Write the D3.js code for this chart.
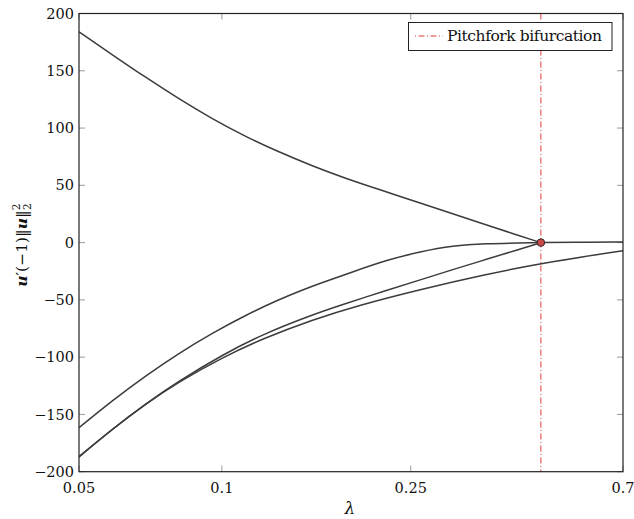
<!DOCTYPE html>
<html><head><meta charset="utf-8">
<script src="https://cdn.jsdelivr.net/npm/d3@7"></script>
<style>
body{margin:0;background:#fff;}
</style>
</head><body>
<svg id="chart" width="634" height="519"></svg>
<script>
// ---- data ----
const xTicks = [0.05, 0.1, 0.25, 0.7];
const xTickLabels = ["0.05", "0.1", "0.25", "0.7"];
const yTicks = [-200, -150, -100, -50, 0, 50, 100, 150, 200];
const pitchforkLambda = 0.47;
const pitchforkValue = 0;
const legendLabel = "Pitchfork bifurcation";

const branch1Lambda = [0.05, 0.0588, 0.0691, 0.0812, 0.0955, 0.1123, 0.1319, 0.1551, 0.1824, 0.2142, 0.2601, 0.306, 0.355, 0.41, 0.47];
const branch1Value  = [184, 163.9, 144.2, 125.4, 107.9, 92.4, 79.1, 66.9, 56.0, 46.4, 34.9, 25.2, 16.4, 7.9, 0];

const branch2Lambda = [0.05, 0.0588, 0.0691, 0.0812, 0.0955, 0.1123, 0.1319, 0.1477, 0.161, 0.189, 0.2226, 0.262, 0.306, 0.361, 0.425, 0.47, 0.55, 0.7];
const branch2Value  = [-161.6, -137.8, -116.2, -96.5, -78.9, -63.3, -49.7, -41.4, -35.6, -25.4, -15.2, -7.9, -2.7, -0.9, -0.3, 0, 0.2, 0.5];

const branch3Lambda = [0.05, 0.0588, 0.0691, 0.0812, 0.1, 0.1216, 0.1551, 0.177, 0.2228, 0.262, 0.306, 0.361, 0.425, 0.47];
const branch3Value  = [-187, -162.7, -140.6, -120.8, -98.3, -80.1, -63, -55, -41.4, -32.6, -23.6, -14.6, -5.6, 0];

const branch4Lambda = [0.05, 0.0588, 0.0691, 0.0812, 0.1, 0.1216, 0.1551, 0.195, 0.2601, 0.361, 0.47, 0.7];
const branch4Value  = [-187, -162.8, -140.8, -121.4, -100.5, -84, -67.3, -54.5, -41.1, -27.6, -18.1, -7];

const branches = [
  [branch1Lambda, branch1Value],
  [branch2Lambda, branch2Value],
  [branch3Lambda, branch3Value],
  [branch4Lambda, branch4Value]
];

// ---- layout ----
const FONT = "DejaVu Serif";
const svg = d3.select("#chart").attr("font-family", FONT);
const L = 79, R = 623, T = 13.5, B = 471.7;
const x = d3.scaleLog().domain([0.05, 0.7]).range([L, R]);
const y = d3.scaleLinear().domain([-200, 200]).range([B, T]);
const tickLen = 6;
const tickColor = "#9a9a9a";

svg.append("defs").append("clipPath").attr("id","clip")
  .append("rect").attr("x",L).attr("y",T).attr("width",R-L).attr("height",B-T);

// ticks (inward on all four sides)
const gTicks = svg.append("g").attr("stroke", tickColor).attr("stroke-width", 1);
xTicks.forEach(t => {
  gTicks.append("line").attr("x1", x(t)).attr("x2", x(t)).attr("y1", B).attr("y2", B - tickLen);
  gTicks.append("line").attr("x1", x(t)).attr("x2", x(t)).attr("y1", T).attr("y2", T + tickLen);
});
yTicks.forEach(t => {
  gTicks.append("line").attr("x1", L).attr("x2", L + tickLen).attr("y1", y(t)).attr("y2", y(t));
  gTicks.append("line").attr("x1", R).attr("x2", R - tickLen).attr("y1", y(t)).attr("y2", y(t));
});

// tick labels
const gLab = svg.append("g").attr("font-size", 14.5).attr("fill", "#111");
xTicks.forEach((t, i) => {
  gLab.append("text").attr("x", x(t)).attr("y", B + 21).attr("text-anchor", "middle").text(xTickLabels[i]);
});
yTicks.forEach(t => {
  gLab.append("text").attr("x", L - 5).attr("y", y(t)).attr("dy", "0.35em")
    .attr("text-anchor", "end").text(t < 0 ? "\u2212" + Math.abs(t) : String(t));
});

// pitchfork vertical line
svg.append("line")
  .attr("x1", x(pitchforkLambda)).attr("x2", x(pitchforkLambda))
  .attr("y1", T).attr("y2", B)
  .attr("stroke", "#e23b3b").attr("stroke-width", 1)
  .attr("stroke-dasharray", "6,2.5,1,2.5");

// curves
const line = d3.line().x(d => x(d[0])).y(d => y(d[1])).curve(d3.curveBasis);
const gCurves = svg.append("g").attr("clip-path", "url(#clip)");
branches.forEach(([lam, val]) => {
  const pts = lam.map((l, i) => [l, val[i]]);
  gCurves.append("path").datum(pts).attr("d", line)
    .attr("fill", "none").attr("stroke", "#3c3c3c").attr("stroke-width", 1.5);
});

// bifurcation point
svg.append("circle").attr("cx", x(pitchforkLambda)).attr("cy", y(pitchforkValue)).attr("r", 3.8)
  .attr("fill", "#c94848").attr("stroke", "#222").attr("stroke-width", 0.9);

// frame
svg.append("rect").attr("x", L).attr("y", T).attr("width", R - L).attr("height", B - T)
  .attr("fill", "none").attr("stroke", "#222").attr("stroke-width", 1.2);

// legend
const lg = svg.append("g");
lg.append("rect").attr("x", 408.5).attr("y", 22.5).attr("width", 203.5).attr("height", 28)
  .attr("fill", "#fff").attr("stroke", "#222").attr("stroke-width", 1);
lg.append("line").attr("x1", 415).attr("x2", 443).attr("y1", 36).attr("y2", 36)
  .attr("stroke", "#e23b3b").attr("stroke-width", 1).attr("stroke-dasharray", "1,2.5,6,2.5");
lg.append("text").attr("x", 447).attr("y", 36).attr("dy", "0.35em")
  .attr("font-size", 15.5).attr("fill", "#111").attr("textLength", 155).text(legendLabel);

// x label
svg.append("text").attr("x", 350).attr("y", 514).attr("text-anchor", "middle")
  .attr("font-size", 17).attr("font-style", "italic").attr("fill", "#111").text("\u03bb");

// y label
const yl = svg.append("text").attr("transform", "translate(27,245) rotate(-90)")
  .attr("text-anchor", "middle").attr("font-size", 15.5).attr("fill", "#111");
yl.append("tspan").attr("font-style", "italic").attr("font-weight", "bold").text("u");
yl.append("tspan").text("\u2032(\u22121)\u2016");
yl.append("tspan").attr("font-style", "italic").attr("font-weight", "bold").text("u");
yl.append("tspan").text("\u2016");
yl.append("tspan").attr("font-size", 10.5).attr("dy", -7).text("2");
yl.append("tspan").attr("font-size", 10.5).attr("dx", -6.5).attr("dy", 11).text("2");
</script>
</body></html>
